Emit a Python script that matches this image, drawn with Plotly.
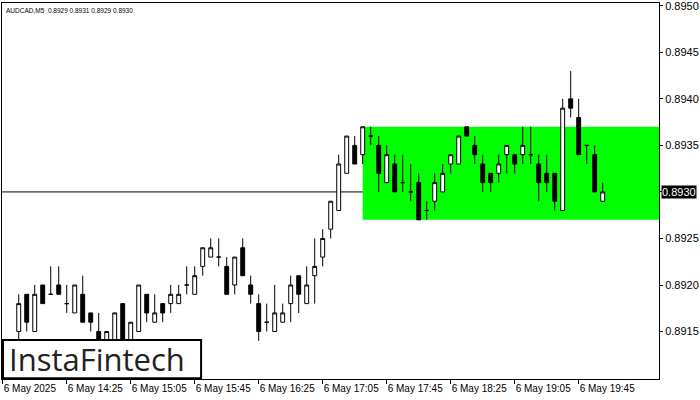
import plotly.graph_objects as go
import pandas as pd

# ---- data (AUDCAD M5, 6 May 2025) ----
times = pd.date_range("2025-05-06 13:55", "2025-05-06 20:00", freq="5min")

opens = [0.8915, 0.8919, 0.8915, 0.8920, 0.8919, 0.8920, 0.8918, 0.8917, 0.8919, 0.8917,
         0.8915, 0.8914, 0.8913, 0.8918, 0.8913, 0.8915, 0.8919, 0.8916, 0.8918, 0.8918,
         0.8918, 0.8920, 0.8919, 0.8922, 0.8923, 0.8923, 0.8922, 0.8920, 0.8924, 0.8920,
         0.8918, 0.8916, 0.8915, 0.8916, 0.8918, 0.8921, 0.8918, 0.8921, 0.8923, 0.8926,
         0.8928, 0.8932, 0.8935, 0.8934, 0.8936, 0.8935, 0.8931, 0.8933, 0.8931, 0.8930,
         0.8931, 0.8928, 0.8929, 0.8930, 0.8933, 0.8933, 0.8937, 0.8935, 0.8933, 0.8932,
         0.8932, 0.8934, 0.8934, 0.8934, 0.8934, 0.8933, 0.8932, 0.8932, 0.8928, 0.8940,
         0.8938, 0.8935, 0.8934, 0.8929]
highs = [0.8919, 0.8919, 0.8920, 0.8920, 0.8922, 0.8922, 0.8920, 0.8920, 0.8921, 0.8917,
         0.8917, 0.8915, 0.8917, 0.8918, 0.8916, 0.8920, 0.8919, 0.8919, 0.8918, 0.8920,
         0.8920, 0.8922, 0.8922, 0.8924, 0.8925, 0.8925, 0.8923, 0.8923, 0.8925, 0.8921,
         0.8919, 0.8918, 0.8920, 0.8918, 0.8921, 0.8921, 0.8922, 0.8925, 0.8926, 0.8929,
         0.8934, 0.8936, 0.8936, 0.8937, 0.8937, 0.8936, 0.8935, 0.8934, 0.8934, 0.8933,
         0.8932, 0.8929, 0.8932, 0.8933, 0.8934, 0.8936, 0.8937, 0.8936, 0.8934, 0.8932,
         0.8934, 0.8935, 0.8934, 0.8937, 0.8937, 0.8934, 0.8934, 0.8932, 0.8940, 0.8943,
         0.8940, 0.8935, 0.8935, 0.8931]
lows = [0.8913, 0.8915, 0.8915, 0.8918, 0.8919, 0.8919, 0.8917, 0.8917, 0.8916, 0.8915,
        0.8913, 0.8913, 0.8913, 0.8912, 0.8913, 0.8915, 0.8916, 0.8916, 0.8916, 0.8917,
        0.8918, 0.8919, 0.8919, 0.8921, 0.8923, 0.8922, 0.8919, 0.8919, 0.8921, 0.8918,
        0.8914, 0.8915, 0.8915, 0.8916, 0.8916, 0.8917, 0.8918, 0.8918, 0.8922, 0.8925,
        0.8928, 0.8932, 0.8933, 0.8933, 0.8935, 0.8930, 0.8931, 0.8930, 0.8930, 0.8929,
        0.8927, 0.8927, 0.8928, 0.8930, 0.8932, 0.8933, 0.8936, 0.8933, 0.8930, 0.8930,
        0.8931, 0.8932, 0.8932, 0.8933, 0.8933, 0.8929, 0.8930, 0.8928, 0.8928, 0.8938,
        0.8934, 0.8933, 0.8930, 0.8929]
closes = [0.8918, 0.8916, 0.8919, 0.8918, 0.8919, 0.8919, 0.8918, 0.8920, 0.8916, 0.8916,
          0.8914, 0.8915, 0.8917, 0.8913, 0.8916, 0.8920, 0.8917, 0.8917, 0.8917, 0.8919,
          0.8919, 0.8920, 0.8921, 0.8924, 0.8924, 0.8923, 0.8919, 0.8923, 0.8921, 0.8919,
          0.8915, 0.8916, 0.8917, 0.8917, 0.8920, 0.8919, 0.8920, 0.8922, 0.8925, 0.8929,
          0.8933, 0.8936, 0.8933, 0.8937, 0.8936, 0.8932, 0.8934, 0.8930, 0.8931, 0.8930,
          0.8927, 0.8928, 0.8931, 0.8932, 0.8934, 0.8936, 0.8936, 0.8934, 0.8931, 0.8931,
          0.8933, 0.8935, 0.8933, 0.8935, 0.8934, 0.8931, 0.8931, 0.8929, 0.8939, 0.8939,
          0.8934, 0.8935, 0.8930, 0.8930]

ytick_vals = [0.8915, 0.8920, 0.8925, 0.8930, 0.8935, 0.8940, 0.8945, 0.8950]
ytick_text = ["0.8915", "0.8920", "0.8925", "", "0.8935", "0.8940", "0.8945", "0.8950"]
xtick_vals = ["2025-05-06 13:45", "2025-05-06 14:25", "2025-05-06 15:05", "2025-05-06 15:45",
              "2025-05-06 16:25", "2025-05-06 17:05", "2025-05-06 17:45", "2025-05-06 18:25",
              "2025-05-06 19:05", "2025-05-06 19:45"]
xtick_text = ["6 May 2025", "6 May 14:25", "6 May 15:05", "6 May 15:45", "6 May 16:25",
              "6 May 17:05", "6 May 17:45", "6 May 18:25", "6 May 19:05", "6 May 19:45"]

bid = 0.8930
zone_low, zone_high = 0.8927, 0.8937
zone_start = "2025-05-06 17:30"
title_text = "AUDCAD,M5  0.8929 0.8931 0.8929 0.8930"
x_range = ["2025-05-06 13:44:33", "2025-05-06 20:35:12"]
y_range = [0.89099, 0.89503]

fig = go.Figure()
fig.add_trace(go.Candlestick(
    x=times, open=opens, high=highs, low=lows, close=closes,
    increasing=dict(fillcolor="white", line=dict(color="black", width=1)),
    decreasing=dict(fillcolor="black", line=dict(color="black", width=1)),
    whiskerwidth=0, showlegend=False, hoverinfo="skip",
))

fig.add_shape(type="rect", xref="x", yref="y", x0=zone_start, x1=x_range[1],
              y0=zone_low, y1=zone_high, fillcolor="#00FF00", line=dict(width=0),
              layer="below")
fig.add_shape(type="line", xref="paper", yref="y", x0=0, x1=1, y0=bid, y1=bid,
              line=dict(color="black", width=1), layer="below")
# logo box
fig.add_shape(type="rect", xref="paper", yref="paper", x0=0.0015, x1=0.303, y0=0.002, y1=0.1037,
              fillcolor="white", line=dict(color="black", width=2), layer="above")
fig.add_annotation(xref="paper", yref="paper", x=0.145, y=0.052, text="InstaFintech",
                   showarrow=False, font=dict(family="Open Sans", size=31, color="#222222"),
                   xanchor="center", yanchor="middle")
fig.add_annotation(xref="paper", yref="paper", x=0, y=1, xanchor="left", yanchor="top",
                   xshift=2, yshift=-2, text=title_text, showarrow=False,
                   font=dict(family="Liberation Sans", size=6.5, color="black"))
fig.add_annotation(xref="paper", yref="y", x=1, y=bid, xanchor="left", yanchor="middle",
                   xshift=2, text="0.8930", showarrow=False, bgcolor="black", borderpad=0,
                   font=dict(family="Liberation Sans", size=11, color="white"))

fig.update_layout(
    width=700, height=400,
    margin=dict(l=2, r=41, t=3, b=21, autoexpand=False),
    paper_bgcolor="white", plot_bgcolor="white",
    showlegend=False,
    font=dict(family="Liberation Sans", color="black"),
)
fig.update_xaxes(
    type="date", range=x_range, rangeslider=dict(visible=False), automargin=False,
    tickvals=xtick_vals, ticktext=xtick_text, ticks="outside", ticklen=4, tickangle=0,
    tickcolor="black", ticklabelposition="outside right",
    tickfont=dict(size=10, family="Liberation Sans", color="black"),
    showgrid=False, zeroline=False, showline=True, linecolor="black", linewidth=1, mirror=True,
)
fig.update_yaxes(
    side="right", range=y_range, tickvals=ytick_vals, ticktext=ytick_text, automargin=False,
    ticks="outside", ticklen=3, tickcolor="black", ticklabeloverflow="allow",
    tickfont=dict(size=11, family="Liberation Sans", color="black"),
    showgrid=False, zeroline=False, showline=True, linecolor="black", linewidth=1, mirror=True,
)

fig.write_html("out.html", config={"displayModeBar": False},
               post_script="document.body.style.margin='0';")
